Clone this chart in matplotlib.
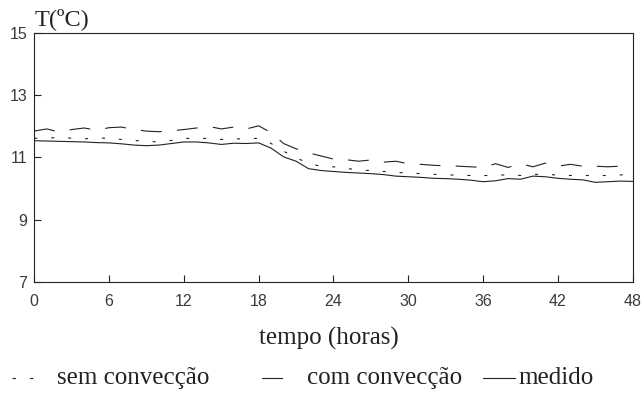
import matplotlib as mpl
import matplotlib.pyplot as plt
from matplotlib.lines import Line2D

mpl.rcParams.update({
    'lines.scale_dashes': False,
    'axes.linewidth': 0.8,
})

hours = list(range(0, 49))

medido = [11.54, 11.53, 11.52, 11.51, 11.50, 11.48, 11.47, 11.44, 11.40, 11.38,
          11.40, 11.45, 11.50, 11.50, 11.47, 11.42, 11.46, 11.45, 11.47, 11.30,
          11.02, 10.88, 10.64, 10.58, 10.55, 10.52, 10.50, 10.48, 10.45, 10.40,
          10.38, 10.36, 10.33, 10.32, 10.30, 10.27, 10.22, 10.25, 10.32, 10.30,
          10.40, 10.38, 10.33, 10.30, 10.28, 10.20, 10.22, 10.24, 10.23]

com_conv = [11.85, 11.92, 11.82, 11.90, 11.95, 11.88, 11.96, 11.98, 11.90, 11.85,
            11.83, 11.86, 11.90, 11.95, 12.00, 11.92, 11.98, 11.92, 12.02, 11.80,
            11.45, 11.28, 11.15, 11.05, 10.95, 10.93, 10.88, 10.92, 10.85, 10.88,
            10.80, 10.78, 10.75, 10.73, 10.72, 10.70, 10.68, 10.80, 10.68, 10.80,
            10.70, 10.82, 10.72, 10.78, 10.72, 10.72, 10.70, 10.72, 10.74]

sem_conv = [11.62, 11.62, 11.65, 11.62, 11.60, 11.63, 11.62, 11.58, 11.55, 11.52,
            11.50, 11.55, 11.62, 11.60, 11.62, 11.58, 11.60, 11.60, 11.62, 11.45,
            11.20, 11.00, 10.80, 10.72, 10.70, 10.65, 10.60, 10.58, 10.55, 10.52,
            10.50, 10.48, 10.46, 10.44, 10.43, 10.42, 10.42, 10.42, 10.45, 10.42,
            10.46, 10.45, 10.44, 10.42, 10.42, 10.42, 10.42, 10.44, 10.45]

xticks = [0, 6, 12, 18, 24, 30, 36, 42, 48]
yticks = [7, 9, 11, 13, 15]

INK = '#222222'
SERIF = 'Liberation Serif'

fig = plt.figure(figsize=(6.42, 3.93), dpi=100)
ax = fig.add_axes([0.0534, 0.2832, 0.9321, 0.6321])

ax.plot(hours, sem_conv, color=INK, lw=0.8, dashes=(2.2, 10))
ax.plot(hours, com_conv, color=INK, lw=0.8, dashes=(15, 11))
ax.plot(hours, medido, color=INK, lw=0.8)

ax.set_xlim(0, 48)
ax.set_ylim(7, 15)
ax.set_xticks(xticks)
ax.set_yticks(yticks)
ax.tick_params(direction='in', length=5, width=0.8, colors=INK,
               labelsize=11.5, labelcolor='#3a3a3a')
for lab in ax.get_xticklabels() + ax.get_yticklabels():
    lab.set_family('Liberation Sans')
ax.tick_params(axis='x', pad=9)
ax.tick_params(axis='y', pad=5)
for s in ax.spines.values():
    s.set_color(INK)

fig.text(0.0545, 0.952, 'T(ºC)', ha='left', va='center',
         family=SERIF, fontsize=17.5, color=INK)
fig.text(0.5117, 0.140, 'tempo (horas)', ha='center', va='center',
         family=SERIF, fontsize=18, color=INK)

# legend drawn by hand along the bottom
ly = 0.038
legend_items = [
    ((0.0187, 0.0545), (2.5, 10), 0.0888, 'sem convecção'),
    ((0.408, 0.439), None, 0.478, 'com convecção'),
    ((0.752, 0.802), None, 0.808, 'medido'),
]
for (x0, x1), style, tx, label in legend_items:
    ln = Line2D([x0, x1], [ly, ly], transform=fig.transFigure, color=INK, lw=0.8)
    if style is not None:
        ln.set_dashes(style)
    fig.add_artist(ln)
    fig.text(tx, ly, label, ha='left', va='center', family=SERIF,
             fontsize=18, color=INK)

fig.savefig('out.png', dpi=100)
